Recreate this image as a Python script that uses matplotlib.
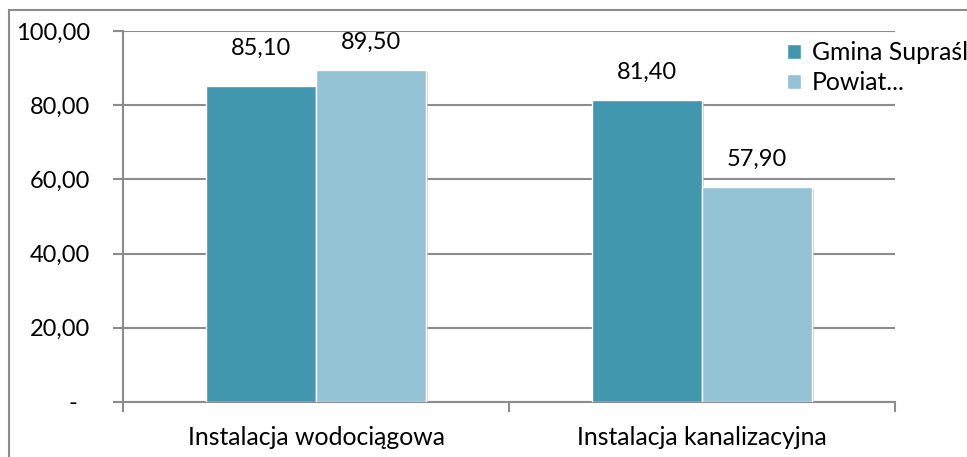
import matplotlib
matplotlib.use("Agg")
import matplotlib.pyplot as plt
import matplotlib.patheffects as pe
from matplotlib.lines import Line2D
import numpy as np

categories = ["Instalacja wodociągowa", "Instalacja kanalizacyjna"]
series_names = ["Gmina Supraśl", "Powiat..."]
gmina = [85.10, 81.40]
powiat = [89.50, 57.90]
yticks = [0, 20, 40, 60, 80, 100]
ytick_labels = ["-  ", "20,00", "40,00", "60,00", "80,00", "100,00"]

colors = ["#4197AE", "#93C3D4"]
FONT = "Lato"
FS = 17.8
FSN = 17.0

W, H = 967, 457
fig = plt.figure(figsize=(W / 100, H / 100), dpi=100)
fig.patch.set_facecolor("white")

# outer frame (top and left visible)
fig.add_artist(Line2D([9 / W, 1], [1 - 10 / H, 1 - 10 / H], color="#8c8c8c", lw=1.5, transform=fig.transFigure))
fig.add_artist(Line2D([9 / W, 9 / W], [0, 1 - 10 / H], color="#8c8c8c", lw=1.5, transform=fig.transFigure))

ax = fig.add_axes([123 / W, 1 - 402 / H, (895 - 123) / W, (402 - 31) / H])
x = np.arange(len(categories))
bw = 0.285
shadow = [pe.SimplePatchShadow(offset=(1.5, -1.5), shadow_rgbFace="#b0b0b0", alpha=0.6), pe.Normal()]
b1 = ax.bar(x - bw / 2, gmina, bw, color=colors[0], edgecolor="white", linewidth=1.0, zorder=3, label=series_names[0])
b2 = ax.bar(x + bw / 2, powiat, bw, color=colors[1], edgecolor="white", linewidth=1.0, zorder=3, label=series_names[1])
for b in list(b1) + list(b2):
    b.set_path_effects(shadow)

def fmt(v):
    return f"{v:.2f}".replace(".", ",")

extra = {(0, 0): 10}
for si, (bars, vals) in enumerate([(b1, gmina), (b2, powiat)]):
    for ci, (b, v) in enumerate(zip(bars, vals)):
        off = 17 + extra.get((si, ci), 0)
        ax.annotate(fmt(v), (b.get_x() + b.get_width() / 2, v), xytext=(0, off * 0.72),
                    textcoords="offset points", ha="center", va="bottom",
                    fontsize=FSN, fontfamily=FONT, color="black", zorder=4)

ax.set_xlim(-0.5, 1.5)
ax.set_ylim(0, 100)
ax.set_yticks(yticks)
ax.set_yticklabels(ytick_labels, fontsize=FSN, fontfamily=FONT)
ax.yaxis.grid(True, color="#8c8c8c", lw=1.5, zorder=0)
ax.set_axisbelow(True)
ax.set_xticks(x)
ax.set_xticklabels(categories, fontsize=FS, fontfamily=FONT)
ax.tick_params(axis="x", which="major", length=0, pad=17)
ax.set_xticks([-0.5, 0.5, 1.5], minor=True)
ax.tick_params(axis="x", which="minor", length=7, width=1.5, color="#8c8c8c", direction="out")
ax.tick_params(axis="y", length=7, width=1.5, color="#8c8c8c", pad=17)
for s in ["top", "right"]:
    ax.spines[s].set_visible(False)
for s in ["left", "bottom"]:
    ax.spines[s].set_color("#8c8c8c")
    ax.spines[s].set_linewidth(1.5)

leg = ax.legend(loc="upper left", bbox_to_anchor=(782 / W, 1 - 36 / H), bbox_transform=fig.transFigure,
                frameon=True, facecolor="white", edgecolor="none", framealpha=1,
                prop={"family": FONT, "size": FS}, handlelength=0.55, handleheight=0.55,
                handletextpad=0.45, labelspacing=0.3, borderpad=0.2, borderaxespad=0)
leg.set_zorder(5)
for h in leg.legend_handles:
    h.set_path_effects([])

fig.savefig("out.png", dpi=100)
